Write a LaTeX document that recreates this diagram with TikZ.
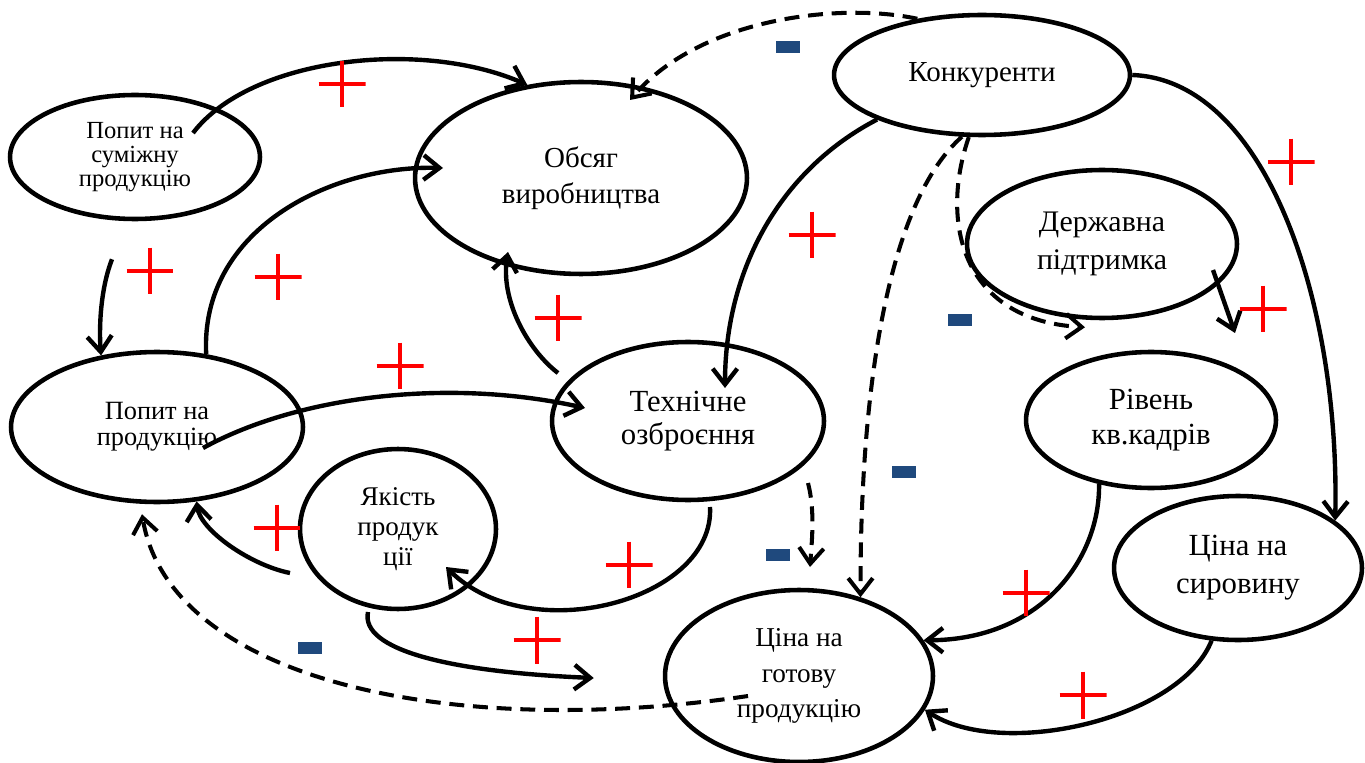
\documentclass[tikz,border=0pt]{standalone}
\usepackage{fontspec}
\setmainfont{Liberation Serif}
\usepackage{xcolor}
\usepackage{tikz}
\usetikzlibrary{
  arrows.meta,
  calc,
  shapes.geometric
}
\definecolor{minusblue}{HTML}{1F497D}
\newcommand{\txtsize}[2]{\fontsize{#1}{#2}\selectfont\lineskiplimit=-100pt}

\begin{document}
\begin{tikzpicture}[x=0.02cm, y=-0.02cm,
  >={Straight Barb[length=9pt,width=14pt]},
  factor/.style={draw, ellipse, line width=2.6pt, inner sep=0pt, align=center},
  link/.style={->, line width=2.5pt},
  neglink/.style={link, line width=2.3pt, dash pattern=on 8.5pt off 5pt},
  possign/.style={minimum size=0.94cm, inner sep=0pt,
    path picture={\draw[red, line width=1.8pt]
      (path picture bounding box.north) -- (path picture bounding box.south)
      (path picture bounding box.west) -- (path picture bounding box.east);}},
  negsign/.style={fill=minusblue, minimum width=0.48cm, minimum height=0.23cm, inner sep=0pt}
]
  \useasboundingbox (0,0) rectangle (1365,763);

  \node [factor, minimum width=5cm, minimum height=2.48cm, font=\txtsize{14}{13.6}] (sum) at (135,157) {Попит на\\суміжну\\продукцію};
  \node [factor, minimum width=6.64cm, minimum height=3.84cm, font=\txtsize{16.5}{20.5}] (vol) at (581,178) {Обсяг\\виробництва};
  \node [factor, minimum width=5.92cm, minimum height=2.4cm, font=\txtsize{16.5}{20}] (comp) at (982,75) {Конкуренти};
  \node [factor, minimum width=5.4cm, minimum height=2.96cm, font=\txtsize{17}{21.5}] (gov) at (1102,244) {Державна\\підтримка};
  \node [factor, minimum width=5.84cm, minimum height=3cm, font=\txtsize{15}{15}] (dem) at (157,427) {Попит на\\продукцію};
  \node [factor, minimum width=5.44cm, minimum height=3.16cm, font=\txtsize{17.5}{18.8}] (tech) at (688,421) {Технічне\\озброєння};
  \node [factor, minimum width=3.92cm, minimum height=3.2cm, font=\txtsize{15.4}{17}] (qual) at (398,529) {Якість\\продук\\ції};
  \node [factor, minimum width=5cm, minimum height=2.72cm, font=\txtsize{17.5}{19.5}] (staff) at (1151,420) {Рівень\\кв.кадрів};
  \node [factor, minimum width=4.96cm, minimum height=2.88cm, font=\txtsize{17.5}{21.5}] (raw) at (1238,568) {Ціна на\\сировину};
  \node [factor, minimum width=5.36cm, minimum height=3.44cm, font=\txtsize{15.5}{20}] (price) at (799,676) {Ціна на\\готову\\продукцію};

  \draw [link] ($(sum.center)+(58,-24)$) .. controls (250,58) and (420,38) .. (vol.120);
  \draw [link] ($(sum.south)+(-23,38)$) .. controls (100,290) and (99,330) .. (dem.128);
  \draw [link] (dem.56) .. controls (200,230) and (330,165) .. ($(vol.center)+(-138,-10)$);
  \draw [link] ($(dem.center)+(46,21)$) .. controls (300,395) and (450,378) .. ($(tech.center)+(-103,-13)$);
  \draw [link] ($(tech.center)+(-130,-48)$) .. controls (528,350) and (500,300) .. ($(vol.center)+(-73,74)$);
  \draw [neglink] (comp.139) .. controls (840,2) and (700,18) .. ($(vol.center)+(49,-78)$);
  \draw [link] (comp.203) .. controls (780,170) and (725,270) .. ($(tech.center)+(37,-33)$);
  \draw [neglink] (comp.252) .. controls (890,200) and (860,380) .. (price.52);
  \draw [neglink] (comp.258) .. controls (940,220) and (960,320) .. ($(gov.south)+(-17,7)$);
  \draw [link] (comp.east) .. controls (1265,80) and (1340,300) .. (raw.26);
  \draw [link] ($(gov.center)+(111,26)$) -- ($(staff.center)+(84,-87)$);
  \draw [neglink] ($(tech.center)+(120,62)$) .. controls (815,510) and (812,540) .. ($(price.center)+(11,-109)$);
  \draw [link] ($(tech.center)+(22,86)$) .. controls (715,600) and (530,650) .. ($(qual.center)+(48,38)$);
  \draw [link] ($(qual.center)+(-108,44)$) .. controls (250,565) and (200,530) .. (dem.298);
  \draw [link] ($(qual.center)+(-30,83)$) .. controls (360,650) and (450,672) .. ($(price.west)+(-69,2)$);
  \draw [neglink] ($(price.center)+(-51,20)$) .. controls (450,740) and (170,680) .. ($(dem.south)+(-15,10)$);
  \draw [link] (staff.231) .. controls (1100,560) and (1040,640) .. (price.16);
  \draw [link] (raw.250) .. controls (1180,720) and (1000,760) .. (price.345);

  \node [possign] (p1) at (342,84) {};
  \node [possign] (p2) at (150,271) {};
  \node [possign] (p3) at (278,277) {};
  \node [possign] (p4) at (558,318) {};
  \node [possign] (p5) at (400,366) {};
  \node [possign] (p6) at (812,235) {};
  \node [possign] (p7) at (1291,162) {};
  \node [possign] (p8) at (1263,309) {};
  \node [possign] (p9) at (277,528) {};
  \node [possign] (p10) at (629,565) {};
  \node [possign] (p11) at (537,640) {};
  \node [possign] (p12) at (1026,593) {};
  \node [possign] (p13) at (1083,695) {};

  \node [negsign] (m1) at (788,47) {};
  \node [negsign] (m2) at (960,320) {};
  \node [negsign] (m3) at (904,472) {};
  \node [negsign] (m4) at (778,555) {};
  \node [negsign] (m5) at (310,648) {};
\end{tikzpicture}
\end{document}
